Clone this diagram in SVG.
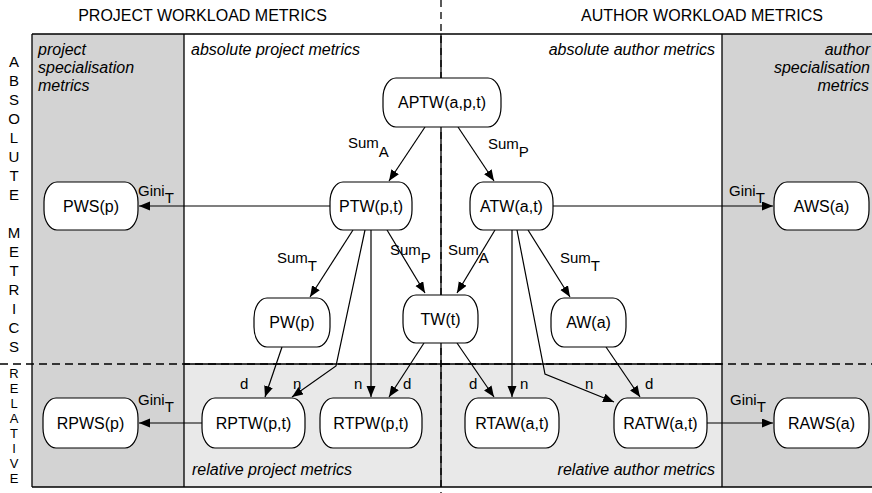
<svg xmlns="http://www.w3.org/2000/svg" width="872" height="493" viewBox="0 0 872 493">
<defs>
<style>
text{font-family:"Liberation Sans",Arial,sans-serif;fill:#000}
.hdr{font-size:16px;text-anchor:middle}
.reg{font-size:16px;font-style:italic}
.lt{font-size:15px;text-anchor:middle}
.lr{font-size:13px;text-anchor:middle}
.nd rect{fill:#fff;stroke:#000;stroke-width:1.2}
.nd text{font-size:16px;text-anchor:middle}
.lbl{font-size:15px}
.c{fill:none;stroke:#000;stroke-width:1.2;marker-end:url(#ah)}
.frame{fill:none;stroke:#000;stroke-width:1.3}
</style>
<marker id="ah" markerWidth="12" markerHeight="10" refX="11" refY="4.5" orient="auto" markerUnits="userSpaceOnUse">
<path d="M0,0 L11,4.5 L0,9 z" fill="#000"/>
</marker>
</defs>
<rect width="872" height="493" fill="#fff"/>
<g id="background">
<rect x="32" y="34" width="152" height="453" fill="#d3d3d3"/>
<rect x="722" y="34" width="160" height="453" fill="#d3d3d3"/>
<rect x="184" y="34" width="538" height="330" fill="#fff"/>
<rect x="184" y="364" width="538" height="123" fill="#e9e9e9"/>
<path class="frame" d="M32,34 H880 M32,487 H880 M32,34 V487 M184,34 V487 M722,34 V487 M441,34 V487 M184,364 H722"/>
<path d="M0,364 H872" stroke="#000" stroke-width="1.3" stroke-dasharray="8,5" fill="none"/>
<path d="M441,0 V493" stroke="#000" stroke-width="1.3" stroke-dasharray="7,5" fill="none"/>
</g>
<g id="headers">
<text class="hdr" x="202.5" y="21">PROJECT WORKLOAD METRICS</text>
<text class="hdr" x="702" y="21">AUTHOR WORKLOAD METRICS</text>
<text class="reg" x="38" y="55">project</text>
<text class="reg" x="38" y="73">specialisation</text>
<text class="reg" x="38" y="91">metrics</text>
<text class="reg" x="191" y="55">absolute project metrics</text>
<text class="reg" x="715" y="55" text-anchor="end">absolute author metrics</text>
<text class="reg" x="870" y="55" text-anchor="end">author</text>
<text class="reg" x="870" y="73" text-anchor="end">specialisation</text>
<text class="reg" x="869" y="91" text-anchor="end">metrics</text>
<text class="reg" x="192" y="475">relative project metrics</text>
<text class="reg" x="715" y="475" text-anchor="end">relative author metrics</text>
</g>
<g id="side-labels">
<text class="lt" x="14" y="67">A</text>
<text class="lt" x="14" y="86">B</text>
<text class="lt" x="14" y="105">S</text>
<text class="lt" x="14" y="124">O</text>
<text class="lt" x="14" y="143">L</text>
<text class="lt" x="14" y="162">U</text>
<text class="lt" x="14" y="181">T</text>
<text class="lt" x="14" y="200">E</text>
<text class="lt" x="14" y="238">M</text>
<text class="lt" x="14" y="257">E</text>
<text class="lt" x="14" y="276">T</text>
<text class="lt" x="14" y="295">R</text>
<text class="lt" x="14" y="314">I</text>
<text class="lt" x="14" y="333">C</text>
<text class="lt" x="14" y="352">S</text>
<text class="lr" x="14" y="378">R</text>
<text class="lr" x="14" y="393">E</text>
<text class="lr" x="14" y="408">L</text>
<text class="lr" x="14" y="423">A</text>
<text class="lr" x="14" y="438">T</text>
<text class="lr" x="14" y="453">I</text>
<text class="lr" x="14" y="468">V</text>
<text class="lr" x="14" y="483">E</text>
</g>
<g id="connectors">
<path class="c" d="M425,127 L389,181"/>
<path class="c" d="M458,127 L494,181"/>
<path class="c" d="M330,206 H139"/>
<path class="c" d="M553,206 H773"/>
<path class="c" d="M353,230 L310,297"/>
<path class="c" d="M365,230 L336,366 L292,397"/>
<path class="c" d="M371,230 V397"/>
<path class="c" d="M387,230 L425,293"/>
<path class="c" d="M282,347 L265,397"/>
<path class="c" d="M424,343 L389,397"/>
<path class="c" d="M495,230 L457,293"/>
<path class="c" d="M512,230 V397"/>
<path class="c" d="M457,343 L494,397"/>
<path class="c" d="M517,230 L545,374 L614,402"/>
<path class="c" d="M528,230 L570,297"/>
<path class="c" d="M606,347 L640,397"/>
<path class="c" d="M202,423 H139"/>
<path class="c" d="M707,423 H773"/>
</g>
<g id="connector-labels" class="lbl">
<text x="348" y="148">Sum<tspan dy="9">A</tspan></text>
<text x="488" y="149">Sum<tspan dy="8">P</tspan></text>
<text x="138" y="196">Gini<tspan dy="7">T</tspan></text>
<text x="729" y="196">Gini<tspan dy="7">T</tspan></text>
<text x="277" y="263">Sum<tspan dy="8">T</tspan></text>
<text x="390" y="255">Sum<tspan dy="8">P</tspan></text>
<text x="448" y="255">Sum<tspan dy="8">A</tspan></text>
<text x="560" y="263">Sum<tspan dy="8">T</tspan></text>
<text x="240" y="389">d</text>
<text x="293" y="389">n</text>
<text x="354" y="389">n</text>
<text x="403" y="389">d</text>
<text x="469" y="389">d</text>
<text x="520" y="389">n</text>
<text x="585" y="389">n</text>
<text x="645" y="389">d</text>
<text x="138" y="405">Gini<tspan dy="7">T</tspan></text>
<text x="730" y="405">Gini<tspan dy="7">T</tspan></text>
</g>
<g id="APTW" class="nd"><rect x="383" y="78" width="118" height="49" rx="13" ry="20"/><text x="442" y="108">APTW(a,p,t)</text></g>
<g id="PTW" class="nd"><rect x="330" y="182" width="82" height="48" rx="13" ry="20"/><text x="371" y="212">PTW(p,t)</text></g>
<g id="PWS" class="nd"><rect x="44" y="182" width="94" height="48" rx="13" ry="20"/><text x="91" y="212">PWS(p)</text></g>
<g id="ATW" class="nd"><rect x="470" y="182" width="83" height="48" rx="13" ry="20"/><text x="511.5" y="212">ATW(a,t)</text></g>
<g id="AWS" class="nd"><rect x="774" y="182" width="95" height="48" rx="13" ry="20"/><text x="821.5" y="212">AWS(a)</text></g>
<g id="PW" class="nd"><rect x="254" y="298" width="76" height="49" rx="13" ry="20"/><text x="292" y="328">PW(p)</text></g>
<g id="TW" class="nd"><rect x="403" y="295" width="75" height="48" rx="13" ry="20"/><text x="440.5" y="325">TW(t)</text></g>
<g id="AW" class="nd"><rect x="551" y="298" width="75" height="49" rx="13" ry="20"/><text x="588.5" y="328">AW(a)</text></g>
<g id="RPWS" class="nd"><rect x="43" y="398" width="95" height="50" rx="13" ry="20"/><text x="90.5" y="429">RPWS(p)</text></g>
<g id="RPTW" class="nd"><rect x="202" y="398" width="103" height="50" rx="13" ry="20"/><text x="253.5" y="429">RPTW(p,t)</text></g>
<g id="RTPW" class="nd"><rect x="320" y="398" width="102" height="50" rx="13" ry="20"/><text x="371" y="429">RTPW(p,t)</text></g>
<g id="RTAW" class="nd"><rect x="465" y="398" width="94" height="50" rx="13" ry="20"/><text x="512" y="429">RTAW(a,t)</text></g>
<g id="RATW" class="nd"><rect x="614" y="398" width="93" height="50" rx="13" ry="20"/><text x="660.5" y="429">RATW(a,t)</text></g>
<g id="RAWS" class="nd"><rect x="774" y="398" width="95" height="50" rx="13" ry="20"/><text x="821.5" y="429">RAWS(a)</text></g>
</svg>
